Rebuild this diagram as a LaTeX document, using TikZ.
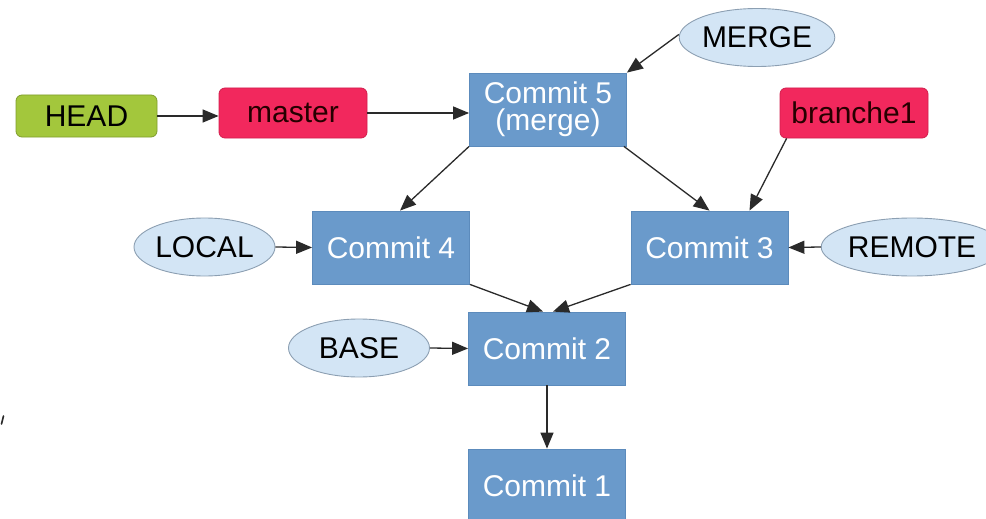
\documentclass[tikz,border=0pt]{standalone}
\usepackage{fontspec}
\setmainfont{Liberation Sans}
\usetikzlibrary{arrows.meta,shapes.geometric}
\definecolor{commitfill}{HTML}{6A9ACB}
\definecolor{commitline}{HTML}{5C8BBC}
\definecolor{refill}{HTML}{D3E5F5}
\definecolor{refline}{HTML}{8C9FB2}
\definecolor{branchfill}{HTML}{F2285D}
\definecolor{branchline}{HTML}{D21E4D}
\definecolor{headfill}{HTML}{A3C73C}
\definecolor{headline}{HTML}{7F9D2C}
\definecolor{edgecol}{HTML}{2A2A2A}
\begin{document}
\begin{tikzpicture}[x=1pt,y=-1pt,
  every node/.style={inner sep=0pt, font=\fontsize{30}{27}\selectfont},
  commit/.style={rectangle, fill=commitfill, draw=commitline, line width=0.8pt,
    text=white, align=center, minimum width=157pt, minimum height=73pt},
  pointer/.style={ellipse, fill=refill, draw=refline, line width=0.9pt,
    text=black, minimum width=141pt, minimum height=58pt},
  branchbox/.style={rectangle, rounded corners=6pt, fill=branchfill, draw=branchline,
    line width=0.8pt, text={black!85!red}, minimum width=148pt, minimum height=50pt},
  headbox/.style={rectangle, rounded corners=6pt, fill=headfill, draw=headline,
    line width=0.8pt, text=black, minimum width=141pt, minimum height=42pt},
  link/.style={draw=edgecol, line width=1.3pt,
    -{Triangle[length=16pt,width=13pt]}}]
\useasboundingbox (0,0) rectangle (986,519);
\clip (0,0) rectangle (986,519);

% reference labels
\node[headbox]   (head)   at (86.5,116)  {HEAD};
\node[branchbox] (master) at (293,113)   {master};
\node[branchbox] (br1)    at (854,113)   {branche1};

% commits
\node[commit] (c5) at (548,109.5) {Commit 5\\(merge)};
\node[commit] (c4) at (391,247.5) {Commit 4};
\node[commit] (c3) at (709.5,247.5) {Commit 3};
\node[commit] (c2) at (547,348.5) {Commit 2};
\node[commit] (c1) at (547,485.5) {Commit 1};

% merge-tool pointers
\node[pointer] (merge)  at (757,37.5) {MERGE};
\node[pointer] (remote) at (912,247)  {REMOTE};
\node[pointer] (local)  at (204.5,247) {LOCAL};
\node[pointer] (base)   at (359,348)  {BASE};

% connectors
\draw[link] (head.east) -- (head.east -| master.west);
\draw[link] (master.east) -- (master.east -| c5.west);
\draw[link] ([yshift=3pt]merge.west) -- (c5.north east);
\draw[link] (c5.south west) -- ([xshift=9pt]c4.north);
\draw[link] ([xshift=-3pt]c5.south east) -- (c3.north);
\draw[link] ([xshift=7pt]br1.south west) -- ([xshift=40pt]c3.north);
\draw[link] (remote.west) -- (c3.east);
\draw[link] (local.east) -- (c4.west);
\draw[link] (c4.south east) -- ([xshift=-4pt]c2.north);
\draw[link] (c3.south west) -- ([xshift=6pt]c2.north);
\draw[link] (base.east) -- (c2.west);
\draw[link] (c2.south) -- (c1.north);

% small stroke at the left margin
\draw[edgecol, line width=1.6pt, line cap=round] (3.5,416) -- (1.5,424);
\end{tikzpicture}
\end{document}
